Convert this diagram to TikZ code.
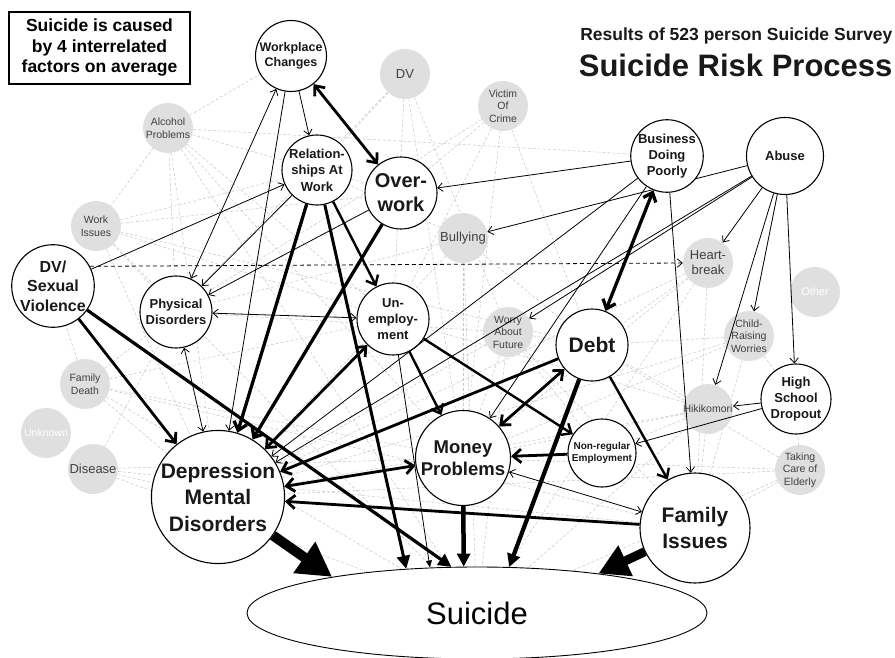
\documentclass[tikz,border=0pt]{standalone}
\usepackage{fontspec}
\setmainfont{Liberation Sans}
\usetikzlibrary{arrows.meta,shapes.geometric,backgrounds}
\newcommand{\fs}[2]{\fontsize{#1}{#2}\selectfont}
\newcommand{\mn}[6]{\node[mn,minimum size=#3pt,font=\fs{#4}{#5}\bfseries] (#1) at (#2) {#6};}
\newcommand{\gn}[5]{\node[gn,font=\fs{#3}{#4}] (#1) at (#2) {#5};}
\newcommand{\barb}[1]{Straight Barb[length=#1pt,width=1.7*#1pt]}

\begin{document}
\begin{tikzpicture}[x=1pt,y=-1pt,
  mn/.style={circle,draw,fill=white,line width=1.1pt,inner sep=0pt,align=center,text=black!90},
  gn/.style={circle,fill=gray!25,minimum size=50pt,inner sep=0pt,align=center,text=black!75},
  web/.style={gray!45,dash pattern=on 3pt off 2pt,line width=0.5pt},
  lk/.style={line width=0.8pt,-{\barb{5}}},
  lkk/.style={line width=0.8pt,{\barb{5}}-{\barb{5}}},
  bk/.style={line width=2.8pt,-{\barb{8}}},
  bkk/.style={line width=2.8pt,{\barb{8}}-{\barb{8}}},
  sk/.style={line width=#1,-{Triangle[length=13pt,width=13pt]}},
  hg/.style={line width=#1,-{Triangle[length=34pt,width=36pt]}}]
\useasboundingbox (0,0) rectangle (895,658);

\node[draw,line width=1.1pt,minimum width=181pt,minimum height=72pt,align=center,font=\fs{17.5}{20.5}\bfseries] (note) at (99.5,48) {Suicide is caused\\by 4 interrelated\\factors on average};
\node[anchor=base east,font=\fs{17.5}{20}\bfseries,text=black!90] (sub) at (896,41) {Results of 523 person Suicide Survey};
\node[anchor=base east,font=\fs{31}{36}\bfseries,text=black!90] (ttl) at (896,77) {Suicide Risk Process};

\gn{alc}{168,128}{10.5}{12.5}{Alcohol\\Problems}
\gn{dv}{405,74}{13}{15}{DV}
\gn{vic}{503,106}{10.5}{12.5}{Victim\\Of\\Crime}
\gn{wis}{96,226}{10.5}{12.5}{Work\\Issues}
\gn{bul}{463,238}{13}{15}{Bullying}
\gn{wor}{508,332}{10.5}{12.5}{Worry\\About\\Future}
\gn{hea}{708,263}{13}{15}{Heart-\\break}
\node[gn,font=\fs{11}{13},text=white] (oth) at (815,292) {Other};
\gn{chi}{749,336}{10.5}{12.5}{Child-\\Raising\\Worries}
\gn{hik}{708,409}{10.5}{12.5}{Hikikomori}
\gn{tak}{800,470}{10.5}{12.5}{Taking\\Care of\\Elderly}
\gn{fde}{85,384}{10.5}{12.5}{Family\\Death}
\node[gn,font=\fs{10.5}{12.5},text=white] (unk) at (46,433) {Unknown};
\gn{dis}{93,469}{13}{15}{Disease}

\mn{wc}{291,56}{71}{12.5}{15.5}{Workplace\\Changes}
\mn{rel}{317,170}{70}{13}{16.5}{Relation-\\ships At\\Work}
\mn{ow}{401,193}{72}{20}{24}{Over-\\work}
\mn{bus}{667,156}{69}{13}{16}{Business\\Doing\\Poorly}
\mn{abu}{785,156}{77}{13}{16}{Abuse}
\mn{dvs}{53,286}{81}{16}{19.5}{DV/\\Sexual\\Violence}
\mn{phy}{176,312}{72}{13}{16}{Physical\\Disorders}
\mn{une}{393,319}{72}{13}{16}{Un-\\employ-\\ment}
\mn{debt}{592,345}{72}{21}{25}{Debt}
\mn{hsd}{796,399}{70}{13}{16}{High\\School\\Dropout}
\mn{dep}{218,497}{130}{21}{26.5}{Depression\\Mental\\Disorders}
\mn{mon}{463,458}{95}{18.5}{22}{Money\\Problems}
\mn{nre}{602,453}{68}{10}{12.5}{Non-regular\\Employment}
\mn{fam}{695,528}{110}{21}{26}{Family\\Issues}
\node[ellipse,draw,fill=white,line width=0.9pt,minimum width=460pt,minimum height=92pt,inner sep=0pt,font=\fs{31}{36}] (sui) at (477,613) {Suicide};

\begin{scope}[on background layer]
\foreach \a/\b in {alc/wc,alc/bus,alc/phy,alc/dep,alc/une,alc/wis,alc/mon,alc/ow,alc/sui,
  wis/rel,wis/phy,wis/dep,wis/une,wis/ow,wis/debt,wis/sui,
  dv/rel,dv/une,dv/mon,dv/wor,dv/phy,vic/ow,vic/mon,vic/debt,vic/une,vic/phy,
  bul/rel,bul/dep,bul/mon,bul/debt,bul/phy,bul/sui,
  wor/dep,wor/mon,wor/debt,wor/fam,wor/nre,wor/phy,wor/sui,
  hea/debt,hea/mon,hea/dep,hea/fam,hea/sui,chi/debt,chi/mon,chi/fam,chi/dep,chi/hsd,
  hik/debt,hik/mon,hik/fam,hik/dep,hik/nre,hik/une,hik/sui,
  tak/fam,tak/mon,tak/debt,tak/dep,tak/hsd,tak/sui,
  fde/dep,fde/phy,fde/mon,fde/une,fde/dvs,fde/fam,fde/sui,dis/dep,dis/mon,dis/fam,dis/phy,dis/sui}
  \draw[web] (\a) -- (\b);
\draw[lk] (abu) -- (bul);
\end{scope}

\draw[lkk] (phy) -- (wc);
\draw[lk] (wc) -- (dep);
\draw[lk] (wc) -- (rel);
\draw[lk] (dvs) -- (rel);
\draw[lk] (rel) -- (phy);
\draw[lk] (ow) -- (phy);
\draw[lkk] (une) -- (phy);
\draw[lkk] (phy) -- (dep);
\draw[lk] (bus) -- (ow);
\draw[lk] (bus) -- (mon);
\draw[lk] (bus) -- (dep);
\draw[lk] (bus) -- (fam);
\draw[lk] (abu) -- (hea);
\draw[lk] (abu) -- (hik);
\draw[lk] (abu) -- (chi);
\draw[lk] (abu) -- (hsd);
\draw[lk] (abu) -- (wor);
\draw[lk] (abu) -- (dep);
\draw[lk] (hsd) -- (hik);
\draw[lk] (hsd) -- (nre);
\draw[lkk] (mon) -- (fam);
\draw[lk,dash pattern=on 4pt off 3pt] (dvs.28) -- (hea.180);

\draw[bkk] (wc) -- (ow);
\draw[bk,line width=3.3pt] (rel) -- (dep);
\draw[bk,line width=3.3pt] (ow) -- (dep);
\draw[bkk] (une) -- (dep);
\draw[bk] (debt) -- (dep);
\draw[bkk] (mon) -- (dep);
\draw[bk] (fam) -- (dep);
\draw[bk] (dvs) -- (dep);
\draw[bk,line width=2.4pt] (rel) -- (une);
\draw[bk,line width=2.4pt] (une) -- (mon);
\draw[bk,line width=2.4pt] (une) -- (nre);
\draw[bkk] (debt) -- (mon);
\draw[bkk,line width=3.3pt] (debt) -- (bus);
\draw[bk,line width=2.4pt] (debt) -- (fam);
\draw[bk] (nre) -- (mon);

\draw[sk=3pt] (rel) -- (sui.148);
\draw[sk=0.8pt,-{Triangle[length=7pt,width=6pt]}] (une) -- (sui.136);
\draw[sk=3.2pt] (dvs) -- (sui.119);
\draw[sk=4.5pt] (mon) -- (sui.106);
\draw[sk=4.2pt] (debt) -- (sui.55);
\draw[hg=10pt] (dep) -- (sui.166);
\draw[hg=9pt,-{Triangle[length=30pt,width=32pt]}] (fam) -- (sui.18);
\end{tikzpicture}
\end{document}
